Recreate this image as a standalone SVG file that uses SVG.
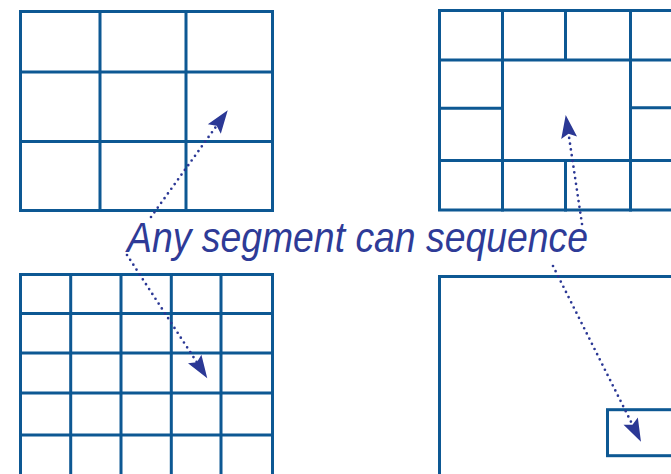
<svg xmlns="http://www.w3.org/2000/svg" width="671" height="474" viewBox="0 0 671 474">
  <style>
    .grid { fill: none; stroke: #0d5893; stroke-width: 3; stroke-linecap: square; }
    .conn { fill: none; stroke: #2b3895; stroke-width: 2.7; stroke-linecap: round; stroke-dasharray: 0 5.8; }
    .label { font-family: "Liberation Sans", Arial, sans-serif; font-style: italic; font-size: 42px; fill: #2e3b97; }
  </style>
  <defs>
    <marker id="head" markerUnits="userSpaceOnUse" markerWidth="27" markerHeight="20" viewBox="-25 -10 27 20" refX="-10" refY="0" orient="auto">
      <path d="M0,0 L-23,-8 L-19,0 L-23,8 Z" fill="#2b3895"/>
    </marker>
  </defs>
  <rect width="671" height="474" fill="#ffffff"/>

  <g id="grid-3x3">
    <rect class="grid" x="20.5" y="11.5" width="252" height="199"/>
    <path class="grid" d="M100,11.5 V210.5 M186,11.5 V210.5 M20.5,72 H272.5 M20.5,141.5 H272.5"/>
  </g>

  <g id="grid-mixed">
    <rect class="grid" x="439.5" y="10.5" width="260" height="199.5"/>
    <path class="grid" d="M502.5,10.5 V210 M630.5,10.5 V210 M565.5,10.5 V60 M565.5,160.5 V210 M439.5,60 H700 M439.5,160.5 H700 M439.5,108.3 H502.5 M630.5,107.7 H700"/>
  </g>

  <g id="grid-5x5">
    <rect class="grid" x="20.5" y="274.5" width="252" height="210"/>
    <path class="grid" d="M70.7,274.5 V484 M121,274.5 V484 M171.3,274.5 V484 M221,274.5 V484 M20.5,313.5 H272.5 M20.5,353 H272.5 M20.5,393 H272.5 M20.5,435 H272.5"/>
  </g>

  <g id="grid-single">
    <rect class="grid" x="439.5" y="276.5" width="260" height="220"/>
    <rect class="grid" x="607.5" y="409.7" width="90" height="46"/>
  </g>

  <g id="connectors">
    <line class="conn" x1="151" y1="217" x2="221.9" y2="118.4" marker-end="url(#head)"/>
    <line class="conn" x1="127" y1="255" x2="201.8" y2="369.9" marker-end="url(#head)"/>
    <line class="conn" x1="582" y1="224" x2="567.2" y2="124.9" marker-end="url(#head)"/>
    <line class="conn" x1="553" y1="266" x2="636.5" y2="432.8" marker-end="url(#head)"/>
  </g>

  <g id="caption">
    <text class="label" x="127" y="251.5" textLength="461" lengthAdjust="spacingAndGlyphs">Any segment can sequence</text>
  </g>
</svg>
